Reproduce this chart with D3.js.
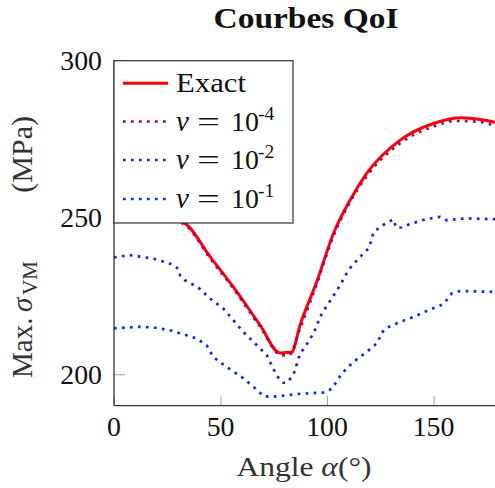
<!DOCTYPE html>
<html><head><meta charset="utf-8">
<script src="https://cdn.jsdelivr.net/npm/d3@7"></script>
<style>body{margin:0;background:#fff}svg{display:block}text,tspan{font-family:"Liberation Serif","DejaVu Serif",serif}</style>
</head><body>
<script>
const title = "Courbes QoI";
const xTicks = [0, 50, 100, 150];
const yTicks = [200, 250, 300];
const seriesNames = ["Exact", "ν = 10", "ν = 10", "ν = 10"];
const seriesExp = [null, "-4", "-2", "-1"];

const alphaExact = [0, 6, 12, 18, 24, 30, 34.3, 45, 56, 68.5, 77.9, 80.5, 83.4, 87.3, 95.2, 103, 110.8, 118.6, 134.3, 149.9, 163.2, 172, 180];
const valExact   = [253.5, 254.5, 254.6, 253.5, 251.5, 249.3, 247.5, 237.5, 227.8, 215.7, 206.8, 206.9, 207.0, 215.6, 229.5, 244.8, 255.4, 263.9, 274.5, 279.8, 281.6, 281.1, 280.0];

const alphaNu4 = [0, 6, 12, 18, 24, 30, 34.3, 45, 56, 68.5, 78.7, 82, 87.3, 95.2, 103, 110.8, 118.6, 134.3, 149.9, 160, 172, 180];
const valNu4   = [253.0, 254.0, 254.1, 253.0, 251.0, 248.8, 247.0, 237.0, 227.3, 215.2, 206.0, 206.0, 214.5, 228.8, 244.0, 254.8, 263.0, 273.5, 278.8, 280.6, 280.3, 278.6];

const alphaNu2 = [0, 7.5, 18.5, 26.3, 30.2, 31, 33.3, 39.6, 45, 51.3, 56, 60.7, 66.2, 71.7, 76.4, 79.5, 81.1, 84.2, 87.3, 89.7, 93.6, 97.5, 102.2, 106.1, 110, 114.7, 119.4, 120.9, 121.7, 124.9, 128, 131.1, 132.4, 135, 139, 146, 153, 156.2, 165.5, 180];
const valNu2   = [237.2, 237.9, 236.8, 235.2, 233.6, 231.5, 229.9, 227.6, 224.1, 220.9, 217.2, 213.5, 209.8, 206.1, 199.5, 197.3, 197.3, 199.7, 206.6, 208.7, 213.0, 219.3, 224.1, 228.3, 233.1, 236.8, 240.0, 242.7, 245.1, 246.9, 248.2, 249.3, 246.7, 246.7, 247.8, 249.3, 250.1, 249.0, 249.6, 249.3];

const alphaNu1 = [0, 11.4, 18.5, 26.3, 34.1, 38.8, 43.5, 46.6, 52.9, 60, 67.7, 70.1, 74, 85, 87.3, 99, 102.2, 106.9, 112.3, 118.6, 124.1, 124.9, 127.2, 134.3, 140.5, 147.6, 154.6, 158.5, 162.4, 180];
const valNu1   = [214.6, 215.1, 214.9, 214.0, 212.4, 211.4, 209.2, 205.5, 202.3, 199.1, 194.7, 193.0, 192.8, 193.6, 193.8, 194.2, 195.4, 200.2, 203.9, 207.1, 210.3, 212.4, 214.5, 216.7, 218.2, 220.4, 222.3, 225.7, 226.5, 226.2];

const colors = ["#ff0000", "#a00078", "#3c14e0", "#0a28ff"];

const W = 495, H = 488;
const SERIF = '"Liberation Serif","DejaVu Serif",serif';
const svg = d3.select("body").append("svg").attr("width", W).attr("height", H);
const x = d3.scaleLinear().domain([0, 180]).range([114, 497.5]);
const y = d3.scaleLinear().domain([190, 300]).range([405.7, 60]);

svg.append("defs").append("clipPath").attr("id", "clip")
  .append("rect").attr("x", 114).attr("y", 55).attr("width", 390).attr("height", 351);

// ticks (inside, grey)
const gx = svg.append("g").attr("transform", "translate(0,405.7)")
  .call(d3.axisTop(x).tickValues(xTicks).tickSize(10).tickFormat(""));
gx.select(".domain").remove();
gx.selectAll(".tick line").attr("stroke", "#a0a0a0").attr("stroke-width", 1);
const gy = svg.append("g").attr("transform", "translate(114,0)")
  .call(d3.axisRight(y).tickValues(yTicks).tickSize(11).tickFormat(""));
gy.select(".domain").remove();
gy.selectAll(".tick line").attr("stroke", "#a0a0a0").attr("stroke-width", 1);

// tick labels
svg.append("g").selectAll("text").data(xTicks).join("text")
  .attr("x", d => x(d)).attr("y", 436).attr("text-anchor", "middle")
  .attr("font-size", 27.8).attr("fill", "#111").text(d => d);
svg.append("g").selectAll("text").data(yTicks).join("text")
  .attr("x", 102).attr("y", d => y(d) + 9.5).attr("text-anchor", "end")
  .attr("font-size", 27.8).attr("fill", "#111").text(d => d);

// curves
const series = [
  {a: alphaExact, v: valExact, c: colors[0], dotted: false, smooth: true},
  {a: alphaNu4, v: valNu4, c: colors[1], dotted: true, smooth: true},
  {a: alphaNu2, v: valNu2, c: colors[2], dotted: true, smooth: false},
  {a: alphaNu1, v: valNu1, c: colors[3], dotted: true, smooth: false}
];
const gc = svg.append("g").attr("clip-path", "url(#clip)");
[3, 2, 0, 1].forEach(i => {
  const s = series[i];
  const pts = s.a.map((a, k) => [a, s.v[k]]);
  const line = d3.line().x(d => x(d[0])).y(d => y(d[1]))
    .curve(s.smooth ? d3.curveMonotoneX : d3.curveLinear);
  const p = gc.append("path").attr("d", line(pts)).attr("fill", "none").attr("stroke", s.c);
  if (s.dotted) p.attr("stroke-width", 2.7).attr("stroke-dasharray", "2.7 5.3");
  else p.attr("stroke-width", 3).attr("stroke-linejoin", "round");
});

// axis lines
svg.append("line").attr("x1", 114).attr("x2", 114).attr("y1", 60).attr("y2", 405.7)
  .attr("stroke", "#333").attr("stroke-width", 1.3);
svg.append("line").attr("x1", 114).attr("x2", 500).attr("y1", 405.7).attr("y2", 405.7)
  .attr("stroke", "#333").attr("stroke-width", 1.3);

// legend
const lg = svg.append("g");
lg.append("rect").attr("x", 114).attr("y", 60.7).attr("width", 179).attr("height", 162.3)
  .attr("fill", "#fff").attr("stroke", "#333").attr("stroke-width", 1.2);
const rowY = [83.3, 121.5, 160, 199];
seriesNames.forEach((name, i) => {
  const ln = lg.append("line").attr("x1", 123).attr("x2", 168).attr("y1", rowY[i]).attr("y2", rowY[i])
    .attr("stroke", colors[i]);
  if (i === 0) ln.attr("stroke-width", 3);
  else ln.attr("stroke-width", 2.7).attr("stroke-dasharray", "2.7 5.3");
  const ty = rowY[i] + 9;
  if (i === 0) {
    lg.append("text").attr("x", 176).attr("y", ty).attr("font-size", 27.8).attr("fill", "#111")
      .attr("textLength", 70).attr("lengthAdjust", "spacingAndGlyphs").text(name);
  } else {
    const parts = name.split(" ");
    lg.append("text").attr("x", 176).attr("y", ty).attr("font-size", 29).attr("fill", "#111")
      .attr("font-style", "italic").style("font-family", SERIF).text(parts[0]);
    lg.append("text").attr("x", 197).attr("y", ty).attr("font-size", 27.8).attr("fill", "#111")
      .attr("textLength", 23).attr("lengthAdjust", "spacingAndGlyphs").style("font-family", SERIF).text(parts[1]);
    lg.append("text").attr("x", 231).attr("y", ty).attr("font-size", 27.8).attr("fill", "#111")
      .style("font-family", SERIF).text(parts[2]);
    lg.append("text").attr("x", 258).attr("y", ty - 11).attr("font-size", 19.5).attr("fill", "#111")
      .style("font-family", SERIF).text(seriesExp[i]);
  }
});

// title
svg.append("text").attr("x", 306).attr("y", 28).attr("text-anchor", "middle")
  .attr("font-size", 28.5).attr("font-weight", "bold").attr("fill", "#111")
  .attr("textLength", 185).attr("lengthAdjust", "spacingAndGlyphs").text(title);

// axis labels
svg.append("text").attr("x", 304).attr("y", 475.5).attr("text-anchor", "middle")
  .attr("font-size", 27.8).attr("fill", "#333")
  .attr("textLength", 135).attr("lengthAdjust", "spacingAndGlyphs")
  .call(t => { t.append("tspan").text("Angle "); t.append("tspan").attr("font-style", "italic").text("α"); t.append("tspan").text("(°)"); });

// y label, rotated, pieces placed along the axis
const yl = svg.append("g").attr("transform", "translate(32,0) rotate(-90)")
  .attr("fill", "#333").attr("font-size", 29);
yl.append("text").attr("x", -378).attr("y", 0).text("Max.");
yl.append("text").attr("x", -312).attr("y", 0).attr("font-style", "italic").text("σ");
yl.append("text").attr("x", -295).attr("y", 5).attr("font-size", 21).text("VM");
yl.append("text").attr("x", -116).attr("y", 0).attr("text-anchor", "end").attr("font-size", 30).text("(MPa)");
</script>
</body></html>
